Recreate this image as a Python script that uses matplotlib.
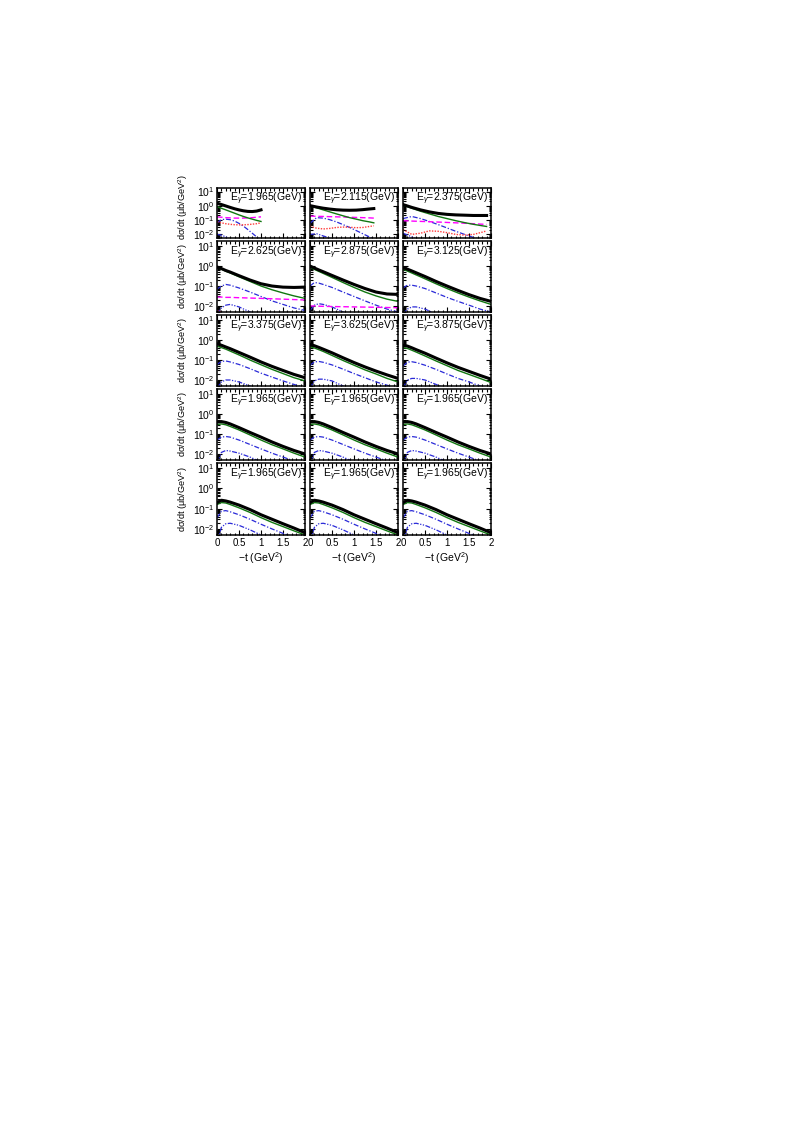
import matplotlib
matplotlib.use("Agg")
import matplotlib.pyplot as plt
from matplotlib.ticker import MultipleLocator, LogLocator, NullFormatter

plt.rcParams['font.family'] = ['Liberation Sans', 'DejaVu Sans']
plt.rcParams['mathtext.fontset'] = 'custom'
plt.rcParams['mathtext.rm'] = 'Liberation Sans'
plt.rcParams['mathtext.it'] = 'Liberation Sans:italic'

W, H = 794, 1123
FS = 7.5

# photon energies, row by row
energies = [["1.965", "2.115", "2.375"],
            ["2.625", "2.875", "3.125"],
            ["3.375", "3.625", "3.875"],
            ["1.965", "1.965", "1.965"],
            ["1.965", "1.965", "1.965"]]

# -t grids (GeV^2)
t_e1 = [0, 0.1, 0.2, 0.3, 0.4, 0.5, 0.6, 0.7, 0.8, 0.9, 1.0]
t_e2 = [0, 0.15, 0.3, 0.45, 0.6, 0.75, 0.9, 1.05, 1.2, 1.35, 1.45]
t_e3 = [0, 0.2, 0.4, 0.6, 0.8, 1.0, 1.2, 1.4, 1.6, 1.8, 1.9]
t_full = [0, 0.1, 0.2, 0.3, 0.5, 0.75, 1.0, 1.25, 1.5, 1.75, 2.0]

# E=1.965
tot_e1 = [1.5, 1.2, 0.95, 0.75, 0.6, 0.5, 0.43, 0.39, 0.38, 0.41, 0.5]
grn_e1 = [0.85, 0.65, 0.5, 0.38, 0.29, 0.22, 0.17, 0.135, 0.11, 0.09, 0.075]
mag_e1 = [0.16, 0.15, 0.14, 0.135, 0.13, 0.13, 0.13, 0.135, 0.14, 0.15, 0.16]
red_e1 = [0.07, 0.06, 0.052, 0.047, 0.044, 0.043, 0.043, 0.045, 0.048, 0.052, 0.06]
bdd_e1 = [0.06, 0.1, 0.11, 0.1, 0.08, 0.055, 0.035, 0.02, 0.011, 0.006, 0.003]
bd3_e1 = [0.009, 0.008, 0.006, 0.004, 0.0025, 0.002, 0.001, 0.001, 0.001, 0.001, 0.001]

# E=2.115
tot_e2 = [1.0, 0.8, 0.66, 0.57, 0.51, 0.48, 0.47, 0.48, 0.52, 0.58, 0.62]
grn_e2 = [0.95, 0.7, 0.5, 0.36, 0.26, 0.19, 0.14, 0.11, 0.085, 0.07, 0.06]
mag_e2 = [0.18, 0.175, 0.17, 0.165, 0.16, 0.155, 0.15, 0.145, 0.14, 0.135, 0.13]
red_e2 = [0.035, 0.025, 0.022, 0.024, 0.028, 0.03, 0.029, 0.027, 0.028, 0.033, 0.037]
bdd_e2 = [0.055, 0.14, 0.13, 0.1, 0.07, 0.045, 0.028, 0.017, 0.01, 0.006, 0.004]
bd3_e2 = [0.009, 0.01, 0.007, 0.005, 0.003, 0.002, 0.001, 0.001, 0.001, 0.001, 0.001]

# E=2.375
tot_e3 = [1.2, 0.75, 0.5, 0.36, 0.28, 0.24, 0.22, 0.21, 0.2, 0.2, 0.2]
grn_e3 = [1.1, 0.65, 0.4, 0.26, 0.17, 0.12, 0.085, 0.062, 0.047, 0.037, 0.033]
mag_e3 = [0.085, 0.08, 0.076, 0.072, 0.068, 0.064, 0.06, 0.056, 0.052, 0.048, 0.046]
red_e3 = [0.02, 0.009, 0.011, 0.016, 0.015, 0.012, 0.009, 0.008, 0.009, 0.013, 0.016]
bdd_e3 = [0.12, 0.17, 0.12, 0.075, 0.045, 0.026, 0.015, 0.009, 0.0055, 0.0035, 0.003]
bd3_e3 = [0.011, 0.006, 0.003, 0.002, 0.001, 0.001, 0.001, 0.001, 0.001, 0.001, 0.001]

# E=2.625
tot_e4 = [0.9, 0.75, 0.6, 0.5, 0.33, 0.2, 0.13, 0.1, 0.088, 0.085, 0.088]
grn_e4 = [0.85, 0.7, 0.55, 0.45, 0.29, 0.17, 0.1, 0.065, 0.045, 0.032, 0.024]
mag_e4 = [0.028, 0.028, 0.027, 0.027, 0.026, 0.025, 0.024, 0.023, 0.022, 0.021, 0.02]
red_e4 = [0.006, 0.005, 0.004, 0.003, 0.002, 0.001, 0.001, 0.001, 0.001, 0.001, 0.001]
bdd_e4 = [0.07, 0.1, 0.12, 0.11, 0.08, 0.05, 0.03, 0.018, 0.012, 0.008, 0.006]
bd3_e4 = [0.004, 0.008, 0.011, 0.012, 0.009, 0.005, 0.003, 0.002, 0.001, 0.001, 0.001]

# E=2.875
tot_e5 = [1.0, 0.8, 0.64, 0.52, 0.34, 0.2, 0.12, 0.075, 0.05, 0.04, 0.038]
grn_e5 = [0.85, 0.68, 0.54, 0.43, 0.27, 0.15, 0.085, 0.05, 0.032, 0.022, 0.017]
mag_e5 = [0.01, 0.01, 0.0098, 0.0096, 0.0094, 0.0092, 0.009, 0.0088, 0.0086, 0.0084, 0.0082]
red_e5 = None
bdd_e5 = [0.1, 0.15, 0.14, 0.12, 0.085, 0.05, 0.03, 0.018, 0.011, 0.007, 0.005]
bd3_e5 = [0.006, 0.011, 0.013, 0.012, 0.009, 0.005, 0.003, 0.002, 0.001, 0.001, 0.001]

# E=3.125
tot_e6 = [0.85, 0.7, 0.57, 0.46, 0.3, 0.17, 0.1, 0.06, 0.037, 0.024, 0.017]
grn_e6 = [0.7, 0.56, 0.45, 0.36, 0.23, 0.13, 0.075, 0.045, 0.028, 0.018, 0.012]
bdd_e6 = [0.08, 0.11, 0.11, 0.1, 0.075, 0.045, 0.027, 0.017, 0.011, 0.007, 0.005]
bd3_e6 = [0.004, 0.007, 0.009, 0.009, 0.007, 0.004, 0.0025, 0.0015, 0.001, 0.001, 0.001]

# E=3.375
tot_e7 = [0.65, 0.55, 0.45, 0.37, 0.24, 0.14, 0.08, 0.048, 0.03, 0.019, 0.013]
grn_e7 = [0.5, 0.42, 0.35, 0.28, 0.18, 0.1, 0.058, 0.034, 0.021, 0.013, 0.009]
bdd_e7 = [0.06, 0.085, 0.09, 0.08, 0.06, 0.037, 0.022, 0.014, 0.009, 0.006, 0.004]
bd3_e7 = [0.004, 0.008, 0.01, 0.01, 0.008, 0.005, 0.003, 0.002, 0.001, 0.001, 0.001]

# E=3.625
tot_e8 = [0.6, 0.52, 0.43, 0.35, 0.23, 0.13, 0.075, 0.045, 0.028, 0.018, 0.012]
grn_e8 = [0.46, 0.4, 0.33, 0.27, 0.17, 0.095, 0.055, 0.032, 0.02, 0.012, 0.008]
bdd_e8 = [0.055, 0.08, 0.085, 0.077, 0.057, 0.035, 0.021, 0.013, 0.008, 0.0055, 0.0037]
bd3_e8 = [0.004, 0.009, 0.011, 0.011, 0.009, 0.005, 0.003, 0.002, 0.001, 0.001, 0.001]

# E=3.875
tot_e9 = [0.55, 0.5, 0.41, 0.33, 0.22, 0.125, 0.072, 0.043, 0.027, 0.017, 0.011]
grn_e9 = [0.42, 0.38, 0.31, 0.25, 0.16, 0.09, 0.052, 0.03, 0.019, 0.012, 0.0075]
bdd_e9 = [0.05, 0.078, 0.082, 0.075, 0.055, 0.034, 0.02, 0.012, 0.008, 0.005, 0.0035]
bd3_e9 = [0.004, 0.01, 0.012, 0.012, 0.01, 0.006, 0.0035, 0.002, 0.001, 0.001, 0.001]

# row 4 (all three panels alike)
tot_r4 = [0.4, 0.42, 0.38, 0.32, 0.21, 0.12, 0.07, 0.04, 0.024, 0.015, 0.01]
grn_r4 = [0.3, 0.32, 0.29, 0.24, 0.16, 0.09, 0.05, 0.029, 0.018, 0.011, 0.007]
bdd_r4 = [0.05, 0.07, 0.075, 0.07, 0.05, 0.03, 0.018, 0.011, 0.007, 0.0045, 0.003]
bd3_r4 = [0.003, 0.012, 0.015, 0.014, 0.011, 0.007, 0.004, 0.0025, 0.0015, 0.001, 0.001]

# row 5 (all three panels alike)
tot_r5 = [0.2, 0.26, 0.24, 0.21, 0.15, 0.09, 0.05, 0.03, 0.018, 0.011, 0.0065]
grn_r5 = [0.16, 0.2, 0.19, 0.16, 0.11, 0.065, 0.036, 0.021, 0.013, 0.008, 0.005]
bdd_r5 = [0.035, 0.075, 0.08, 0.07, 0.05, 0.03, 0.017, 0.01, 0.006, 0.004, 0.0025]
bd3_r5 = [0.002, 0.012, 0.018, 0.019, 0.015, 0.009, 0.005, 0.003, 0.002, 0.001, 0.001]

panels = [
    [(t_e1, tot_e1, grn_e1, mag_e1, red_e1, bdd_e1, bd3_e1),
     (t_e2, tot_e2, grn_e2, mag_e2, red_e2, bdd_e2, bd3_e2),
     (t_e3, tot_e3, grn_e3, mag_e3, red_e3, bdd_e3, bd3_e3)],
    [(t_full, tot_e4, grn_e4, mag_e4, red_e4, bdd_e4, bd3_e4),
     (t_full, tot_e5, grn_e5, mag_e5, red_e5, bdd_e5, bd3_e5),
     (t_full, tot_e6, grn_e6, None, None, bdd_e6, bd3_e6)],
    [(t_full, tot_e7, grn_e7, None, None, bdd_e7, bd3_e7),
     (t_full, tot_e8, grn_e8, None, None, bdd_e8, bd3_e8),
     (t_full, tot_e9, grn_e9, None, None, bdd_e9, bd3_e9)],
    [(t_full, tot_r4, grn_r4, None, None, bdd_r4, bd3_r4)] * 3,
    [(t_full, tot_r5, grn_r5, None, None, bdd_r5, bd3_r5)] * 3,
]

# panel layout in pixels
col_x = [217, 310, 403]
col_w = 88
row_y = [(188, 238), (241, 312), (315, 386), (389, 460), (463, 535)]

fig = plt.figure(figsize=(W / 100, H / 100), dpi=100)

for r in range(5):
    for c in range(3):
        y0, y1 = row_y[r]
        ax = fig.add_axes([col_x[c] / W, 1 - y1 / H, col_w / W, (y1 - y0) / H])
        t, tot, grn, mag, red, bdd, bd3 = panels[r][c]
        ax.plot(t, bd3, color='#2a2ad8', lw=0.9, dashes=(4, 1.2, 1, 1.2, 1, 1.2))
        ax.plot(t, bdd, color='#2a2ad8', lw=0.9, dashes=(4, 1.5, 1, 1.5))
        if red is not None:
            ax.plot(t, red, color='#ff3b3b', lw=1.0, dashes=(1, 1))
        if mag is not None:
            ax.plot(t, mag, color='#ff00ff', lw=1.0, dashes=(4, 2))
        ax.plot(t, grn, color='#117711', lw=1.0)
        ax.plot(t, tot, color='black', lw=2.2)

        ax.set_yscale('log')
        ax.set_xlim(0, 2)
        ax.set_ylim(0.005, 18)
        ax.xaxis.set_major_locator(MultipleLocator(0.5))
        ax.xaxis.set_minor_locator(MultipleLocator(0.1))
        ax.yaxis.set_major_locator(LogLocator(base=10, numticks=10))
        ax.yaxis.set_minor_locator(LogLocator(base=10, subs=range(2, 10), numticks=20))
        ax.yaxis.set_minor_formatter(NullFormatter())
        ax.tick_params(which='both', direction='in', top=True, right=True,
                       labelsize=FS, width=0.8, pad=2)
        ax.tick_params(axis='x', labelsize=7)
        ax.tick_params(which='major', length=3.5)
        ax.tick_params(which='minor', length=1.8)
        for s in ax.spines.values():
            s.set_linewidth(1.1)

        ax.text(0.97, 0.95, r'E$_\gamma$=' + energies[r][c] + '(GeV)',
                transform=ax.transAxes, ha='right', va='top', fontsize=FS)

        if c == 0:
            ax.set_ylabel('dσ/dt (μb/GeV$^2$)', fontsize=6.6)
            ax.yaxis.set_label_coords(-0.31, 0.62 if r == 0 else 0.5)
        else:
            ax.set_yticklabels([])
        if r == 4:
            ax.set_xticks([0, 0.5, 1, 1.5, 2])
            ax.set_xticklabels(['0', '0.5', '1', '1.5', '2'])
            ax.set_xlabel('−t (GeV$^2$)', fontsize=FS, labelpad=2)
        else:
            ax.set_xticklabels([])

fig.savefig('out.png', dpi=100)
